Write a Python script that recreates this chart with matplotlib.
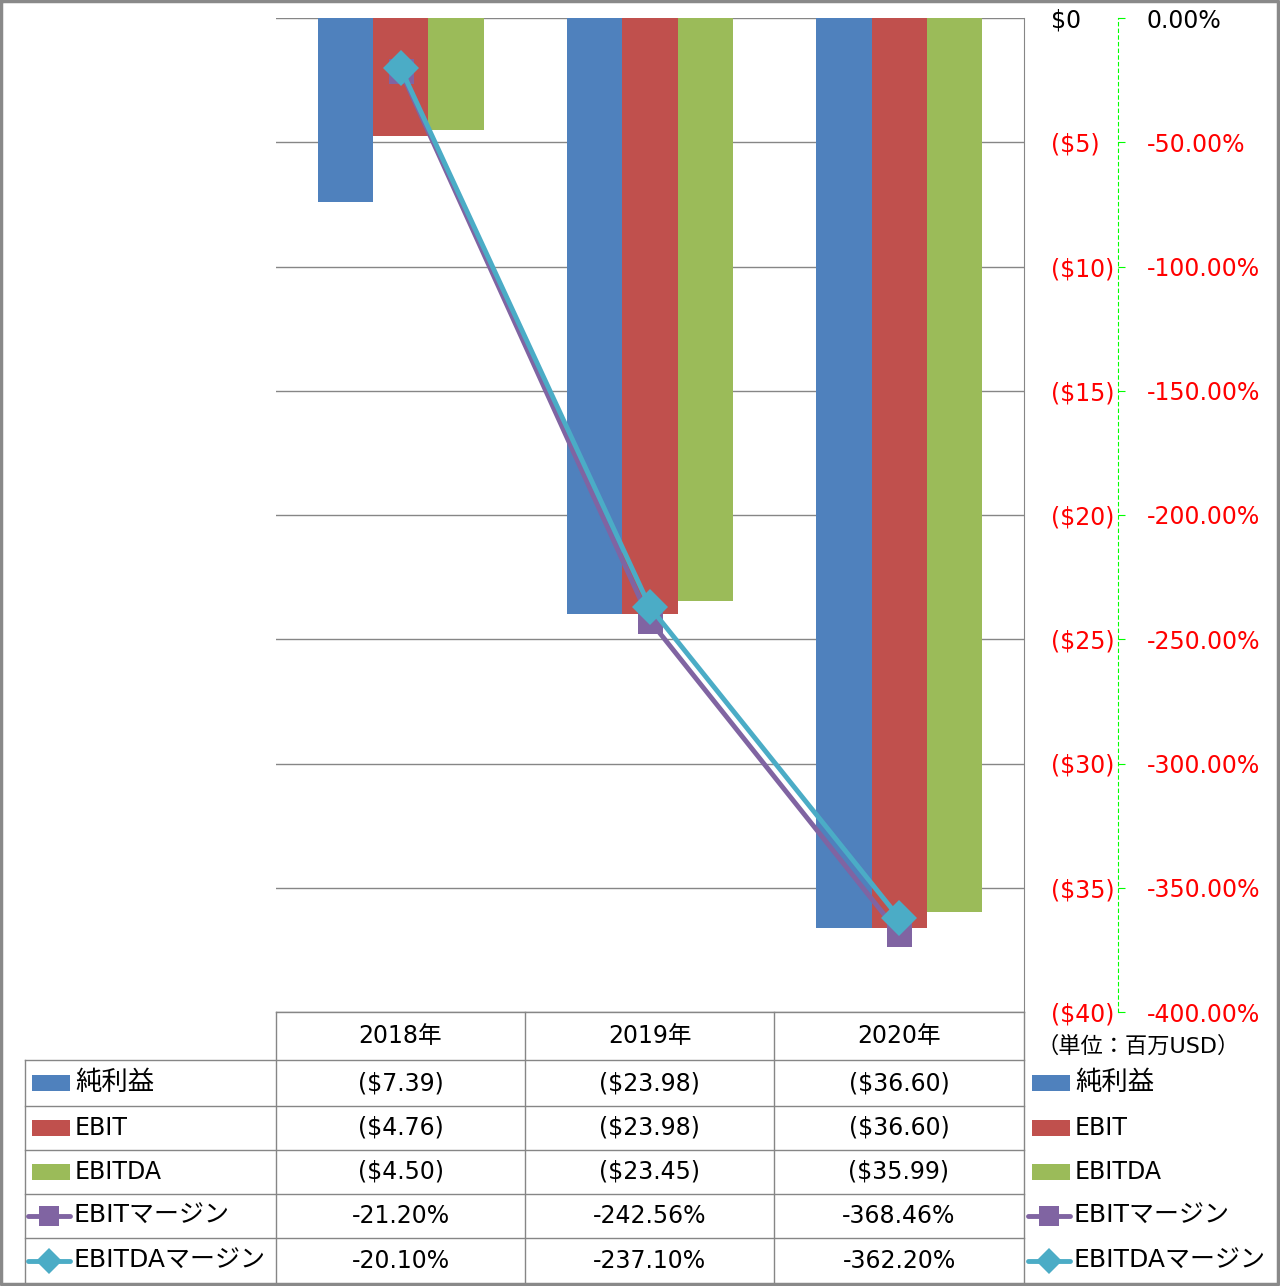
import matplotlib
matplotlib.use("Agg")
import matplotlib.pyplot as plt
from matplotlib.patches import Rectangle
from matplotlib.lines import Line2D

plt.rcParams['font.family'] = ['DejaVu Sans', 'Noto Sans CJK JP']

years = ["2018年", "2019年", "2020年"]
net_income = [-7.39, -23.98, -36.60]
ebit = [-4.76, -23.98, -36.60]
ebitda = [-4.50, -23.45, -35.99]
ebit_margin = [-21.20, -242.56, -368.46]
ebitda_margin = [-20.10, -237.10, -362.20]

bar_names = ["純利益", "EBIT", "EBITDA"]
line_names = ["EBITマージン", "EBITDAマージン"]
bar_colors = ["#4F81BD", "#C0504D", "#9BBB59"]
line_colors = ["#8064A2", "#4BACC6"]
line_markers = ["s", "D"]

usd_ticks = [0, -5, -10, -15, -20, -25, -30, -35, -40]
pct_ticks = [0, -50, -100, -150, -200, -250, -300, -350, -400]

W, H = 1280, 1286
fig = plt.figure(figsize=(W / 100, H / 100), dpi=100)
fs = 17

px0, px1, py0, py1 = 276, 1024, 18, 1012
ax = fig.add_axes([px0 / W, 1 - py1 / H, (px1 - px0) / W, (py1 - py0) / H])
ax2 = ax.twinx()
ax.set_xlim(-0.5, 2.5)
ax.set_ylim(-40, 0)

grid_c = "#868686"
bw = 1 / 4.5
x = list(range(len(years)))
for i, (vals, c) in enumerate(zip([net_income, ebit, ebitda], bar_colors)):
    ax.bar([xi + (i - 1) * bw for xi in x], vals, width=bw, color=c, zorder=2)

ax.set_yticks(usd_ticks)
ax.set_yticklabels(["$0" if v == 0 else f"(${abs(v)})" for v in usd_ticks])
ax.yaxis.grid(True, color=grid_c, linewidth=1, zorder=0)
ax.set_axisbelow(True)
ax.set_xticks([])
for s in ["left", "top", "bottom"]:
    ax.spines[s].set_visible(False)
ax.spines["right"].set_color(grid_c)
ax.yaxis.tick_right()
ax.tick_params(axis="y", length=0, pad=(1051 - 1024) * 0.72, labelsize=fs,
               labelcolor="red")

ax2.set_ylim(-400, 0)
for vals, c, m in zip([ebit_margin, ebitda_margin], line_colors, line_markers):
    ax2.plot(x, vals, color=c, linewidth=3.5, marker=m, markersize=18,
             markeredgewidth=0, zorder=3)
ax2.set_yticks(pct_ticks)
ax2.set_yticklabels([f"{v:.2f}%" for v in pct_ticks])
for s in ["left", "top", "bottom"]:
    ax2.spines[s].set_visible(False)
ax2.spines["right"].set_position(("axes", (1118 - px0) / (px1 - px0)))
ax2.spines["right"].set_color("#00FF00")
ax2.spines["right"].set_linestyle((0, (3, 3)))
ax2.tick_params(axis="y", direction="out", length=5, color="#00FF00",
                pad=(1147 - 1125) * 0.72, labelsize=fs, labelcolor="red")

fig.canvas.draw()
for t, v in zip(ax.yaxis.get_major_ticks(), usd_ticks):
    if v == 0:
        t.label2.set_color("black")
for t, v in zip(ax2.yaxis.get_major_ticks(), pct_ticks):
    if v == 0:
        t.label2.set_color("black")

# data table and legend below the chart
tab = fig.add_axes([0, 0, 1, 1])
tab.set_xlim(0, W)
tab.set_ylim(H, 0)
tab.axis("off")

cols = [276, 525, 774, 1024]
rows = [1060, 1106, 1150, 1194, 1238, 1284]
lc = grid_c
tab.plot([276, 1024], [1012, 1012], color=lc, lw=1)
for yy in rows[:-1]:
    tab.plot([25, 1024], [yy, yy], color=lc, lw=1)
for xx in cols:
    tab.plot([xx, xx], [1012, 1284], color=lc, lw=1)
tab.plot([25, 25], [1060, 1284], color=lc, lw=1)

for j, yr in enumerate(years):
    tab.text((cols[j] + cols[j + 1]) / 2, 1036, yr, ha="center", va="center", fontsize=fs)

table_rows = []
for vals in [net_income, ebit, ebitda]:
    table_rows.append([f"(${abs(v):.2f})" for v in vals])
for vals in [ebit_margin, ebitda_margin]:
    table_rows.append([f"{v:.2f}%" for v in vals])

names = bar_names + line_names
for r in range(5):
    yc = (rows[r] + rows[r + 1]) / 2
    for j in range(3):
        tab.text((cols[j] + cols[j + 1]) / 2, yc, table_rows[r][j],
                 ha="center", va="center", fontsize=fs)
    for kx in [32, 1032]:
        if r < 3:
            tab.add_patch(Rectangle((kx, yc - 8), 38, 16, color=bar_colors[r], lw=0))
            tab.text(kx + 43, yc, names[r], ha="left", va="center",
                     fontsize=fs + 2 if r == 0 else fs)
        else:
            k = r - 3
            tab.add_line(Line2D([kx - 4, kx + 38], [yc, yc], color=line_colors[k],
                                lw=3.5, solid_capstyle="round"))
            tab.add_line(Line2D([kx + 17], [yc], marker=line_markers[k],
                                markersize=15 if k == 0 else 13, color=line_colors[k],
                                markeredgewidth=0))
            tab.text(kx + 42, yc, names[r], ha="left", va="center", fontsize=fs + 1)

tab.text(1138, 1046, "（単位：百万USD）", ha="center", va="center", fontsize=16)

# outer border
bc = "#898989"
tab.plot([1, 1278, 1278, 1, 1], [1, 1, 1284, 1284, 1], color=bc, lw=2.5, clip_on=False)

fig.savefig("out.png", dpi=100)
